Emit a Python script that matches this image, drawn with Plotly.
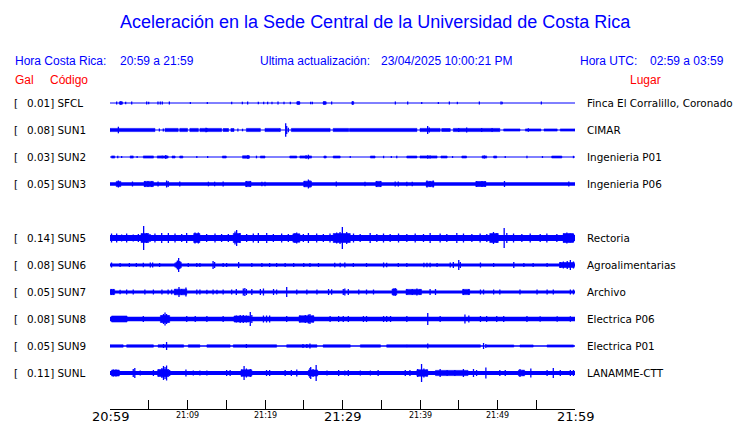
import plotly.graph_objects as go

# ---------------- data ----------------
codes = ["SFCL", "SUN1", "SUN2", "SUN3", "SUN5", "SUN6", "SUN7", "SUN8", "SUN9", "SUNL"]
peak_gal = [0.01, 0.08, 0.03, 0.05, 0.14, 0.08, 0.05, 0.08, 0.05, 0.11]
places = ["Finca El Corralillo, Coronado", "CIMAR", "Ingenieria P01", "Ingenieria P06",
          "Rectoria", "Agroalimentarias", "Archivo", "Electrica P06", "Electrica P01",
          "LANAMME-CTT"]
row_slot = [0, 1, 2, 3, 5, 6, 7, 8, 9, 10]
# background noise half-amplitude of each trace (display units)
noise_level = [0.5, 0.6, 0.5, 1.8, 3.0, 1.6, 1.6, 2.2, 0.7, 2.0]

tick_minutes = [0, 5, 10, 15, 20, 25, 30, 35, 40, 45, 50, 55, 60]
tick_labels = ["20:59", "", "21:09", "", "21:19", "", "21:29", "", "21:39", "", "21:49", "", "21:59"]
major_ticks = ["20:59", "21:29", "21:59"]

# spikes: (minute after 20:59, half-amplitude)
sfcl_spikes = [(0.86, 1.5), (1.38, 1.7), (1.5, 1.2), (2.02, 1.2), (2.8, 1.5), (4.73, 1.5), (4.99, 1.2),
               (6.19, 1.5), (6.49, 1.5), (6.75, 1.5), (7.66, 1.5), (10.37, 1.0), (12.56, 1.0),
               (15.7, 1.2), (17.08, 1.3), (17.76, 1.5), (19.14, 1.2), (19.83, 1.2), (20.34, 1.3),
               (20.9, 1.2), (21.68, 1.5), (22.45, 1.2), (23.27, 1.2), (24.26, 1.8), (24.4, 1.5),
               (25.89, 1.2), (26.11, 1.2), (27.61, 1.8), (27.75, 1.5), (28.6, 1.5), (31.31, 1.8),
               (36.82, 1.5), (38.41, 1.5), (40.22, 1.0), (42.37, 1.0), (43.79, 1.5), (44.82, 1.2),
               (47.66, 1.5), (50.45, 1.5), (50.6, 1.2), (55.66, 1.5)]
sun1_spikes = [(1.08, 3.3), (6.37, 1.5), (6.88, 1.5), (12.39, 2.3), (12.5, 2.0), (16.5, 1.5), (17.1, 1.3),
               (21.94, 1.8), (22.67, 6.7), (22.8, 4.0), (23.01, 2.2), (40.99, 4.0), (41.2, 2.5),
               (45.0, 2.0), (46.02, 2.5), (47.96, 2.0), (49.3, 2.0), (53.98, 1.8)]
sun2_spikes = [(1.0, 1.3), (1.5, 1.0), (3.5, 1.0), (6.75, 1.3), (7.2, 2.0), (11.2, 1.0), (12.6, 1.0),
               (17.8, 2.0), (18.9, 1.3), (25.3, 1.8), (25.6, 2.3), (31.0, 1.0), (35.3, 1.2), (36.3, 1.0),
               (37.0, 1.2), (41.0, 1.8), (41.3, 1.5), (44.2, 1.0), (48.3, 1.6), (51.0, 1.0),
               (53.8, 1.2), (55.8, 1.0), (59.8, 1.2)]
sun3_spikes = [(1.08, 3.5), (2.9, 2.5), (4.5, 3.0), (4.9, 3.0), (5.4, 3.0), (6.2, 2.5), (7.3, 3.5),
               (7.5, 3.0), (9.0, 2.5), (12.7, 2.3), (13.5, 2.3), (14.6, 2.5), (17.6, 3.0), (18.1, 3.0),
               (19.6, 2.3), (20.0, 2.3), (25.1, 3.0), (25.6, 4.5), (25.8, 3.5), (29.2, 2.5),
               (32.9, 2.3), (34.4, 3.0), (34.9, 3.0), (36.8, 2.5), (37.2, 2.5), (38.3, 2.3),
               (39.0, 2.3), (40.9, 3.5), (41.3, 3.0), (41.7, 3.5), (47.3, 3.0), (48.0, 3.0),
               (48.4, 2.8), (50.9, 3.0), (59.2, 2.5)]
sun5_spikes = [(0.2, 4.5), (0.86, 4.5), (1.5, 3.5), (2.15, 4.5), (3.0, 3.5), (3.66, 4.0), (4.34, 12.0),
               (4.73, 5.0), (5.16, 4.0), (5.8, 4.5), (6.67, 5.0), (7.53, 5.0), (8.39, 4.5), (9.25, 4.0),
               (9.89, 5.0), (10.97, 5.5), (11.4, 5.5), (12.47, 4.0), (13.55, 4.5), (14.4, 4.0),
               (15.27, 4.0), (16.13, 6.5), (16.34, 8.0), (16.77, 5.0), (17.63, 4.0), (18.49, 4.5),
               (19.14, 5.0), (20.22, 5.0), (21.08, 4.0), (22.15, 4.5), (23.01, 4.0), (23.87, 5.0),
               (24.09, 5.5), (24.95, 4.0), (25.6, 5.0), (26.67, 4.5), (27.53, 4.0), (28.39, 4.5),
               (29.25, 5.5), (29.68, 6.0), (29.98, 11.0), (30.54, 6.0), (31.42, 4.5), (32.28, 4.0),
               (33.57, 5.0), (34.43, 4.0), (35.29, 4.5), (36.15, 4.0), (37.23, 4.5), (38.3, 4.0),
               (39.38, 4.5), (40.45, 4.0), (41.31, 5.0), (42.6, 4.5), (43.46, 4.0), (44.75, 5.0),
               (45.61, 4.5), (46.69, 4.0), (47.76, 4.5), (48.62, 4.0), (49.48, 6.0), (49.91, 5.0),
               (50.86, 10.0), (51.2, 5.0), (52.07, 4.5), (53.14, 4.0), (54.22, 4.5), (55.51, 4.0),
               (56.37, 4.5), (57.66, 4.0), (58.52, 4.5), (58.95, 5.5), (59.38, 4.5), (59.81, 4.0)]
sun6_spikes = [(0.2, 2.5), (1.3, 2.0), (2.5, 2.0), (3.4, 2.0), (4.3, 2.2), (5.2, 2.5), (5.5, 2.5),
               (6.4, 2.0), (8.4, 2.2), (8.7, 4.5), (8.86, 7.0), (9.0, 4.0), (10.1, 2.0), (11.2, 2.0),
               (11.6, 2.0), (13.3, 4.0), (13.5, 3.0), (14.6, 2.0), (15.05, 2.0), (16.6, 3.0),
               (18.3, 2.0), (19.6, 2.0), (20.6, 2.0), (21.5, 2.0), (22.6, 2.0), (23.7, 2.0),
               (25.0, 2.0), (25.8, 2.0), (26.9, 2.0), (29.0, 2.2), (29.7, 2.2), (30.3, 2.5),
               (31.4, 2.0), (33.1, 2.0), (35.3, 2.5), (35.7, 2.2), (37.2, 2.0), (38.3, 2.0),
               (40.5, 2.2), (40.9, 2.2), (41.3, 2.2), (42.2, 2.0), (43.9, 2.5), (44.3, 3.0),
               (45.0, 5.0), (45.2, 3.0), (47.8, 2.5), (49.5, 2.0), (52.1, 3.0), (53.4, 2.0),
               (54.6, 2.0), (56.4, 2.0), (58.1, 3.0), (58.5, 3.5), (59.0, 4.0), (59.4, 5.0), (59.8, 3.5)]
sun7_spikes = [(0.2, 3.0), (0.43, 3.0), (1.3, 2.3), (2.15, 2.5), (3.0, 2.5), (4.5, 2.5), (5.6, 2.5),
               (6.7, 2.5), (7.5, 2.5), (7.96, 2.5), (8.4, 3.0), (8.9, 5.0), (9.25, 3.0), (9.8, 4.5),
               (11.2, 2.5), (11.6, 2.5), (12.5, 2.3), (13.3, 2.5), (13.8, 2.3), (14.6, 2.5),
               (15.7, 2.5), (16.3, 3.0), (17.2, 3.5), (17.4, 4.0), (17.6, 3.0), (18.3, 3.0),
               (19.4, 3.0), (19.8, 3.5), (21.1, 3.0), (21.5, 2.5), (22.8, 5.0), (24.1, 2.5),
               (25.4, 2.5), (26.7, 2.5), (28.2, 3.0), (28.6, 2.8), (30.1, 3.0), (30.3, 3.5),
               (30.75, 3.0), (32.1, 2.5), (33.1, 2.5), (34.0, 2.5), (36.6, 3.5), (36.8, 4.0),
               (38.3, 3.0), (39.0, 3.0), (39.6, 3.5), (40.0, 3.0), (41.3, 3.0), (42.0, 3.0),
               (45.6, 3.0), (46.3, 3.0), (47.8, 2.5), (48.2, 2.5), (49.5, 2.5), (50.3, 2.5),
               (52.9, 2.5), (55.1, 2.5), (56.4, 2.5), (57.2, 2.5), (59.4, 2.5), (59.8, 2.5)]
sun8_spikes = [(4.3, 3.0), (6.7, 3.5), (6.9, 5.0), (7.1, 6.5), (7.3, 5.0), (7.5, 3.5), (9.9, 3.0),
               (11.0, 3.0), (12.5, 3.0), (14.6, 3.0), (16.3, 3.5), (16.8, 4.0), (17.2, 4.0),
               (17.6, 3.5), (18.1, 7.0), (18.3, 4.0), (19.8, 3.5), (20.2, 3.5), (20.6, 3.5),
               (22.8, 3.0), (24.5, 3.5), (25.2, 4.0), (25.6, 4.5), (25.8, 5.0), (26.2, 3.5),
               (28.4, 3.0), (29.5, 3.0), (30.1, 3.0), (30.75, 3.0), (32.7, 3.0), (33.1, 3.0),
               (35.3, 3.0), (35.7, 3.0), (36.2, 3.0), (38.3, 3.0), (41.0, 6.0), (42.6, 3.0),
               (45.8, 4.5), (46.3, 3.5), (47.8, 3.0), (48.6, 3.0), (49.9, 3.0), (50.8, 3.0),
               (53.8, 3.0), (55.5, 2.8), (57.7, 2.8), (59.4, 2.8)]
sun9_spikes = [(6.9, 2.0), (7.3, 4.0), (17.6, 2.0), (24.9, 2.0), (25.4, 2.0), (25.8, 2.5),
               (41.0, 2.5), (48.2, 3.0), (48.5, 2.0)]
sunl_spikes = [(0.43, 3.5), (0.77, 3.5), (3.0, 4.0), (3.2, 5.0), (3.9, 2.5), (5.6, 3.0), (6.2, 3.5),
               (6.7, 5.0), (6.9, 7.0), (7.1, 6.0), (7.3, 7.5), (7.7, 3.0), (9.8, 3.5), (10.75, 2.5),
               (11.6, 2.5), (12.5, 2.5), (15.05, 3.0), (15.5, 3.0), (17.0, 3.5), (17.3, 7.0),
               (17.6, 4.5), (18.1, 4.0), (20.2, 3.0), (20.6, 3.0), (22.6, 3.0), (23.4, 3.0),
               (24.1, 3.5), (25.8, 5.0), (25.9, 6.0), (26.2, 4.0), (26.6, 8.0), (28.0, 2.5),
               (29.5, 3.0), (30.3, 2.5), (30.75, 3.0), (32.3, 2.5), (33.6, 2.5), (34.6, 3.0),
               (38.1, 3.0), (38.7, 3.0), (39.7, 4.0), (40.2, 9.0), (40.5, 4.5), (40.9, 3.5),
               (42.6, 4.0), (43.5, 3.0), (44.5, 3.0), (45.6, 4.0), (46.9, 4.0), (47.3, 3.0),
               (48.5, 5.5), (50.3, 3.0), (51.0, 3.0), (52.9, 4.0), (53.3, 3.0), (54.3, 4.5),
               (56.4, 3.0), (57.2, 5.0), (58.1, 3.0), (59.4, 3.0), (59.8, 3.0)]

# bursts: (start minute, end minute, half-amplitude)
sfcl_bursts = [(1.2, 1.6, 1.2), (24.1, 24.5, 1.2), (27.5, 27.9, 1.2), (31.2, 31.45, 1.3)]
sun1_bursts = [(0.0, 5.8, 1.6), (7.1, 8.8, 1.6), (9.0, 10.0, 1.6), (10.3, 11.4, 1.6), (11.6, 14.4, 1.6),
               (14.6, 15.3, 1.5), (15.6, 16.0, 1.5), (17.6, 19.4, 1.6), (20.0, 21.9, 1.6),
               (23.4, 28.4, 1.6), (28.8, 30.8, 1.6), (30.9, 39.6, 1.6), (40.0, 42.6, 1.6),
               (42.8, 43.9, 1.5), (44.3, 50.3, 1.6), (50.8, 52.9, 1.1), (53.6, 55.6, 1.1),
               (56.0, 57.7, 1.1), (58.1, 60.0, 1.1)]
sun2_bursts = [(0.2, 0.6, 1.1), (2.6, 3.0, 1.1), (4.3, 5.6, 1.1), (6.1, 7.5, 1.1), (8.0, 8.4, 1.0),
               (9.0, 9.4, 1.0), (14.5, 15.0, 1.0), (17.1, 18.0, 1.2), (19.4, 20.0, 1.0),
               (23.2, 24.1, 1.0), (24.5, 26.0, 1.1), (27.6, 27.9, 1.0), (28.8, 29.7, 1.0),
               (33.6, 34.2, 1.0), (38.3, 39.6, 1.0), (40.0, 42.2, 1.1), (42.7, 43.5, 1.0),
               (45.4, 46.0, 1.0), (48.0, 48.6, 1.1), (49.5, 49.9, 1.0), (57.0, 58.3, 1.0)]
sun3_bursts = [(0.8, 1.4, 2.6), (4.4, 5.6, 2.6), (17.5, 18.2, 2.6), (25.0, 26.0, 2.8), (34.3, 35.0, 2.6),
               (40.8, 41.8, 2.6), (47.2, 48.5, 2.5)]
sun5_bursts = [(4.0, 5.0, 4.5), (10.8, 11.6, 4.5), (15.9, 16.8, 4.5), (23.6, 24.5, 4.2), (28.8, 31.0, 4.5),
               (49.0, 50.1, 4.5), (58.5, 59.8, 4.5)]
sun6_bursts = [(8.5, 9.2, 2.8), (58.0, 59.9, 2.5)]
sun7_bursts = [(0.0, 0.6, 2.6), (8.3, 9.9, 2.8), (36.4, 37.0, 3.0), (38.2, 40.2, 2.6), (45.5, 46.4, 2.6)]
sun8_bursts = [(0.2, 2.2, 3.0), (6.5, 7.7, 3.5), (16.0, 18.0, 3.0), (24.4, 26.3, 3.2)]
sun9_bursts = [(0.0, 1.7, 1.2), (2.15, 5.6, 1.2), (6.2, 9.5, 1.2), (10.1, 11.6, 1.2), (12.5, 15.5, 1.2),
               (15.9, 21.5, 1.2), (22.8, 26.7, 1.2), (27.5, 31.0, 1.2), (32.3, 34.9, 1.2),
               (35.7, 38.3, 1.2), (38.3, 47.8, 1.2), (48.6, 52.1, 1.1), (52.9, 54.6, 1.1),
               (56.4, 59.8, 1.1)]
sunl_bursts = [(0.2, 1.2, 3.0), (6.2, 7.6, 3.5), (16.9, 18.3, 3.2), (25.6, 26.8, 3.0), (39.6, 41.0, 3.2),
               (42.0, 46.2, 2.6), (52.7, 53.5, 2.8)]

all_spikes = [sfcl_spikes, sun1_spikes, sun2_spikes, sun3_spikes, sun5_spikes,
              sun6_spikes, sun7_spikes, sun8_spikes, sun9_spikes, sunl_spikes]
all_bursts = [sfcl_bursts, sun1_bursts, sun2_bursts, sun3_bursts, sun5_bursts,
              sun6_bursts, sun7_bursts, sun8_bursts, sun9_bursts, sunl_bursts]

# ---------------- layout geometry ----------------
W, H = 740, 423
ML, MR, MT, MB = 110, 165, 88, 14
ROW = 27              # display units between rows (1 unit = 1 px)
Y_TOP = 15
Y_BOT = Y_TOP - (H - MT - MB)
BLUE = "#0000ff"
RED = "#ff0000"
HDR_FONT = "Liberation Sans, Arial, sans-serif"
ROW_FONT = "DejaVu Sans, sans-serif"
PAD = 2               # annotation box padding compensation (px)


def px_x(px):
    return (px - ML) / (W - ML - MR)


def px_y(py):
    return (H - MB - py) / (H - MT - MB)


fig = go.Figure()

for i, code in enumerate(codes):
    yc = -ROW * row_slot[i]
    # continuous noise band
    fig.add_trace(go.Scatter(x=[0, 60], y=[yc, yc], mode="lines",
                             line=dict(color=BLUE, width=2 * noise_level[i]),
                             hoverinfo="skip", showlegend=False))
    # bursts
    bx, by = [], []
    for (t0, t1, a) in all_bursts[i]:
        bx += [t0, t1, t1, t0, t0, None]
        by += [yc + a, yc + a, yc - a, yc - a, yc + a, None]
    if bx:
        fig.add_trace(go.Scatter(x=bx, y=by, mode="lines", fill="toself", fillcolor=BLUE,
                                 line=dict(color=BLUE, width=0.6),
                                 hoverinfo="skip", showlegend=False))
    # spikes
    sx, sy = [], []
    for (t, a) in all_spikes[i]:
        sx += [t, t, None]
        sy += [yc - a, yc + a, None]
    fig.add_trace(go.Scatter(x=sx, y=sy, mode="lines",
                             line=dict(color=BLUE, width=1.3),
                             hoverinfo="skip", showlegend=False))

annotations = []


def add_text(text, px, py, size, color, family, anchor="left"):
    if anchor == "left":
        px -= PAD
    annotations.append(dict(text=text, x=px_x(px), y=px_y(py), xref="paper", yref="paper",
                            xanchor=anchor, yanchor="middle", showarrow=False,
                            font=dict(size=size, color=color, family=family)))


# title and header
add_text("Aceleración en la Sede Central de la Universidad de Costa Rica", 375, 22, 18, BLUE,
         HDR_FONT, "center")
add_text("Hora Costa Rica:", 15, 61, 12, BLUE, HDR_FONT)
add_text("20:59 a 21:59", 120, 61, 12, BLUE, HDR_FONT)
add_text("Ultima actualización:", 260, 61, 12, BLUE, HDR_FONT)
add_text("23/04/2025 10:00:21 PM", 381, 61, 12, BLUE, HDR_FONT)
add_text("Hora UTC:", 580, 61, 12, BLUE, HDR_FONT)
add_text("02:59 a 03:59", 650, 61, 12, BLUE, HDR_FONT)
add_text("Gal", 15, 80, 12, RED, HDR_FONT)
add_text("Código", 50, 80, 12, RED, HDR_FONT)
add_text("Lugar", 630, 80, 12, RED, HDR_FONT)

# row labels
for i, code in enumerate(codes):
    py = 103 + ROW * row_slot[i]
    add_text("[", 14, py, 10.4, "black", ROW_FONT)
    add_text(f"{peak_gal[i]:.2f}] {code}", 27, py, 10.4, "black", ROW_FONT)
    add_text(places[i], 587, py, 10.4, "black", ROW_FONT)

# time axis labels
for t, lab in zip(tick_minutes, tick_labels):
    if not lab:
        continue
    big = lab in major_ticks
    annotations.append(dict(text=lab, x=t, xref="x", y=0, yref="paper", xanchor="center",
                            yanchor="middle", yshift=-7 if big else -6.5, showarrow=False,
                            font=dict(size=13 if big else 8, color="black", family=ROW_FONT)))

fig.update_layout(
    width=W, height=H, margin=dict(l=ML, r=MR, t=MT, b=MB, pad=0),
    paper_bgcolor="white", plot_bgcolor="white",
    xaxis=dict(range=[0, 60], tickvals=tick_minutes, ticks="inside", ticklen=9,
               tickcolor="black", tickwidth=1, showline=True, linecolor="black", linewidth=1,
               showgrid=False, zeroline=False, showticklabels=False, fixedrange=True),
    yaxis=dict(range=[Y_BOT, Y_TOP], visible=False, fixedrange=True),
    annotations=annotations,
    showlegend=False,
)

fig.write_html("out.html", config={"displayModeBar": False, "staticPlot": True})

# remove the browser's default page margin so the figure sits at the window origin
with open("out.html", "r", encoding="utf-8") as f:
    page = f.read()
page = page.replace("<head>", "<head><style>html,body{margin:0;padding:0;overflow:hidden;}</style>", 1)
with open("out.html", "w", encoding="utf-8") as f:
    f.write(page)
